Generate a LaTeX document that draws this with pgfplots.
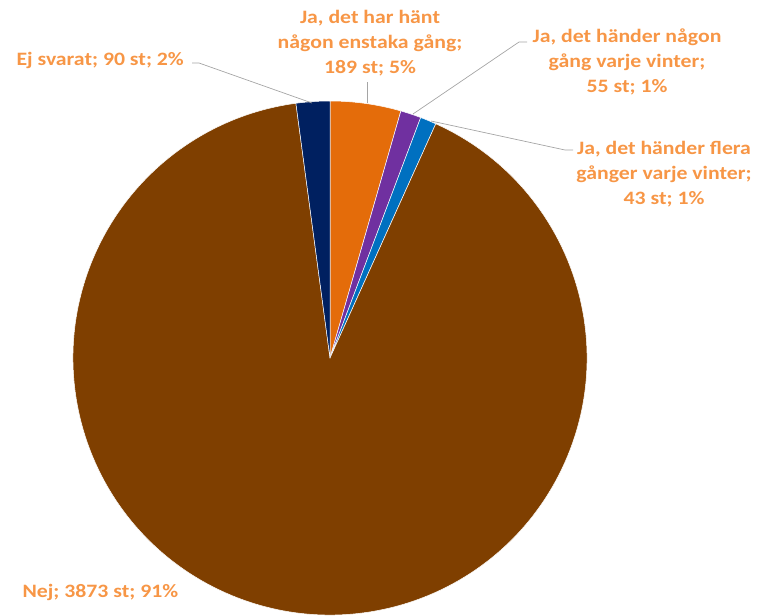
\documentclass[border=0pt]{standalone}
\usepackage{fontspec}
\setmainfont{Carlito}[FakeStretch=1.15]
\usepackage{pgfplots}
\usepackage{pgfplotstable}
\pgfplotsset{compat=1.18}

\definecolor{sliceorange}{HTML}{E46C0A}
\definecolor{slicepurple}{HTML}{7030A0}
\definecolor{sliceblue}{HTML}{0070C0}
\definecolor{slicebrown}{HTML}{7F3F00}
\definecolor{slicenavy}{HTML}{002060}
\definecolor{labelorange}{HTML}{F79646}
\definecolor{leader}{HTML}{A5A5A5}

\tikzset{lbl/.style={font=\bfseries\fontsize{19}{25}\selectfont, text=labelorange, align=center}}

% svar, clockwise from 12 o'clock
\pgfplotstableread{
value color
189 sliceorange
55 slicepurple
43 sliceblue
3873 slicebrown
90 slicenavy
}\piedata

\begin{document}
\begin{tikzpicture}
\path[use as bounding box] (0,0) rectangle (758bp,616bp);
\begin{axis}[
    at={(0,0)}, anchor=south west,
    scale only axis,
    width=758bp, height=616bp,
    xmin=0, xmax=758, ymin=0, ymax=616,
    y dir=reverse,
    hide axis,
    clip=false,
]
\pgfplotsextra{
  \pgfplotstablegetrowsof{\piedata}
  \pgfmathtruncatemacro\lastrow{\pgfplotsretval-1}
  \gdef\total{0}
  \foreach \i in {0,...,\lastrow}{
    \pgfplotstablegetelem{\i}{value}\of\piedata
    \pgfmathsetmacro\tmp{\total+\pgfplotsretval}
    \xdef\total{\tmp}
  }
  \gdef\cum{0}
  \foreach \i in {0,...,\lastrow}{
    \pgfplotstablegetelem{\i}{value}\of\piedata
    \pgfmathsetmacro\val{\pgfplotsretval}
    \pgfplotstablegetelem{\i}{color}\of\piedata
    \edef\col{\pgfplotsretval}
    \pgfmathsetmacro\startang{90-(\cum/\total)*360}
    \pgfmathsetmacro\endang{90-((\cum+\val)/\total)*360}
    \fill[fill=\col, draw=white, line width=0.5pt]
      (axis cs:330,358) -- ++(\startang:257bp)
      arc[start angle=\startang, end angle=\endang, radius=257bp] -- cycle;
    \pgfmathsetmacro\tmp{\cum+\val}
    \xdef\cum{\tmp}
  }
}
% leader lines
\draw[leader, line width=0.7pt] (axis cs:192,63) -- (axis cs:199,63) -- (axis cs:312,103);
\draw[leader, line width=0.7pt] (axis cs:367,82) -- (axis cs:367,103);
\draw[leader, line width=0.7pt] (axis cs:527,42) -- (axis cs:519,42) -- (axis cs:413,114);
\draw[leader, line width=0.7pt] (axis cs:573,150) -- (axis cs:565,150) -- (axis cs:431,121);
% labels
\node[lbl, anchor=west] at (axis cs:13,60) {Ej svarat; 90 st; 2\%};
\node[lbl] at (axis cs:370,43) {Ja, det har hänt\\någon enstaka gång;\\189 st; 5\%};
\node[lbl] at (axis cs:627,62) {Ja, det händer någon\\gång varje vinter;\\55 st; 1\%};
\node[lbl] at (axis cs:664,174) {Ja, det händer flera\\gånger varje vinter;\\43 st; 1\%};
\node[lbl, anchor=west] at (axis cs:19,592) {Nej; 3873 st; 91\%};
\end{axis}
\end{tikzpicture}
\end{document}
